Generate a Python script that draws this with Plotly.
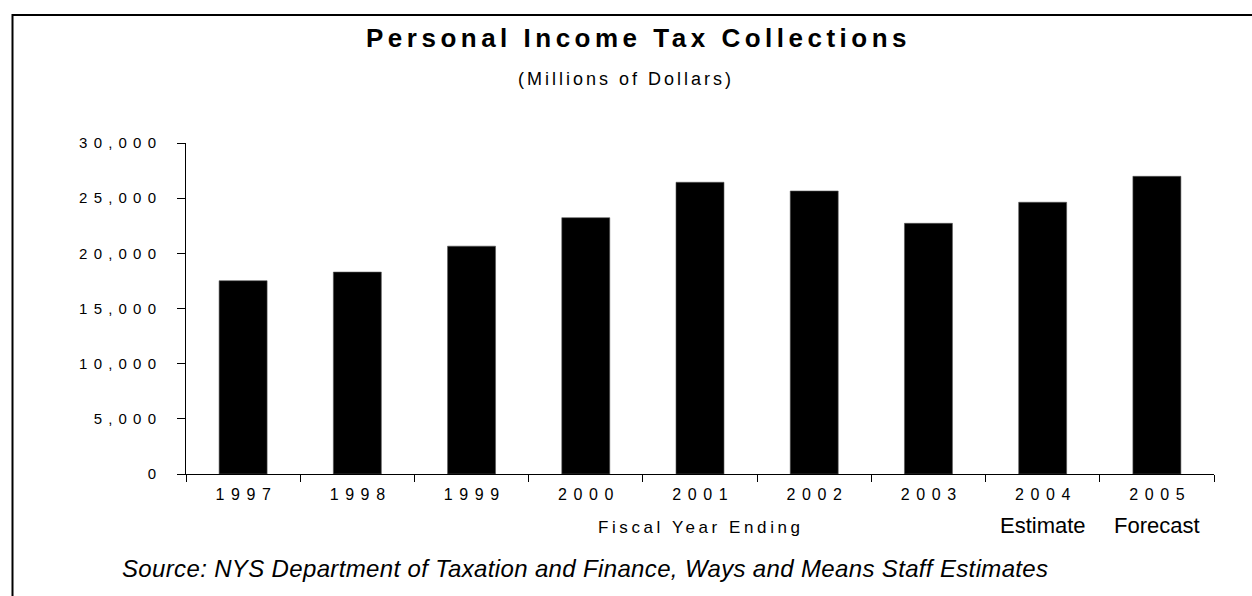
import plotly.graph_objects as go

# Personal income tax collections by fiscal year ending (millions of dollars)
years = ["1997", "1998", "1999", "2000", "2001", "2002", "2003", "2004", "2005"]
collections = [17520, 18300, 20650, 23230, 26440, 25650, 22720, 24630, 26980]
year_notes = ["", "", "", "", "", "", "", "Estimate", "Forecast"]
y_ticks = [0, 5000, 10000, 15000, 20000, 25000, 30000]

FONT = "Arial, Liberation Sans, sans-serif"

# plot area in pixels, used to place the free text around it
PX_L, PX_R, PX_T, PX_B = 186, 1214, 143, 474


def px_x(px):
    return (px - PX_L) / (PX_R - PX_L)


def px_y(py):
    return (PX_B - py) / (PX_B - PX_T)


def tracked(text, spacing):
    # widen the letter spacing without leaving trailing space after the last glyph
    if len(text) < 2:
        return text
    return f'<span style="letter-spacing:{spacing}px">{text[:-1]}</span>{text[-1]}'


fig = go.Figure()
fig.add_trace(go.Bar(
    x=years,
    y=collections,
    width=0.42,
    marker=dict(color="black", line=dict(color="#555555", width=0.6)),
    showlegend=False,
))

fig.update_layout(
    width=1252,
    height=596,
    paper_bgcolor="white",
    plot_bgcolor="white",
    margin=dict(l=PX_L, r=1252 - PX_R, t=PX_T, b=596 - PX_B),
    font=dict(family=FONT, color="black"),
    showlegend=False,
)

fig.update_xaxes(
    type="category",
    range=[-0.5, len(years) - 0.5],
    tickmode="array",
    tickvals=years,
    ticktext=[tracked(y, 6.6) for y in years],
    tickson="boundaries",
    ticks="outside",
    ticklen=7,
    tickcolor="black",
    showline=True,
    linecolor="black",
    linewidth=1,
    showgrid=False,
    tickfont=dict(size=16, family=FONT, color="black"),
    ticklabelstandoff=6,
)

fig.update_yaxes(
    range=[0, 30000],
    tickmode="array",
    tickvals=y_ticks,
    ticktext=[tracked(f"{v:,}", 6.2) for v in y_ticks],
    ticks="outside",
    ticklen=8,
    tickcolor="black",
    showline=True,
    linecolor="black",
    linewidth=1,
    showgrid=False,
    zeroline=False,
    tickfont=dict(size=15, family=FONT, color="black"),
    ticklabelstandoff=18,
)


def note(text, x, y, size, xref="paper", xanchor="center", **font_kw):
    fig.add_annotation(
        text=text, xref=xref, yref="paper", x=x, y=y,
        xanchor=xanchor, yanchor="middle", showarrow=False,
        font=dict(size=size, family=FONT, color="black", **font_kw),
    )


# title and subtitle
note("<b>" + tracked("Personal Income Tax Collections", 4.5) + "</b>", px_x(636), px_y(38), 26)
note(tracked("(Millions of Dollars)", 3), px_x(624), px_y(79), 18)

# estimate / forecast notes under the year labels
for i, txt in enumerate(year_notes):
    if txt:
        note(txt, i, px_y(525), 22, xref="x")

# axis caption
note(tracked("Fiscal Year Ending", 3.6), px_x(699), px_y(527), 17)

# source line
note("<i>" + tracked("Source: NYS Department of Taxation and Finance, Ways and Means Staff Estimates", 0.35)
     + "</i>", px_x(120), px_y(568), 24, xanchor="left")

# frame around the whole chart
fig.add_shape(
    type="rect",
    xref="paper", yref="paper",
    x0=px_x(12.5), x1=px_x(1300),
    y0=px_y(640), y1=px_y(15),
    line=dict(color="black", width=2),
    fillcolor="rgba(0,0,0,0)",
    layer="below",
)

fig.write_html("out.html")
